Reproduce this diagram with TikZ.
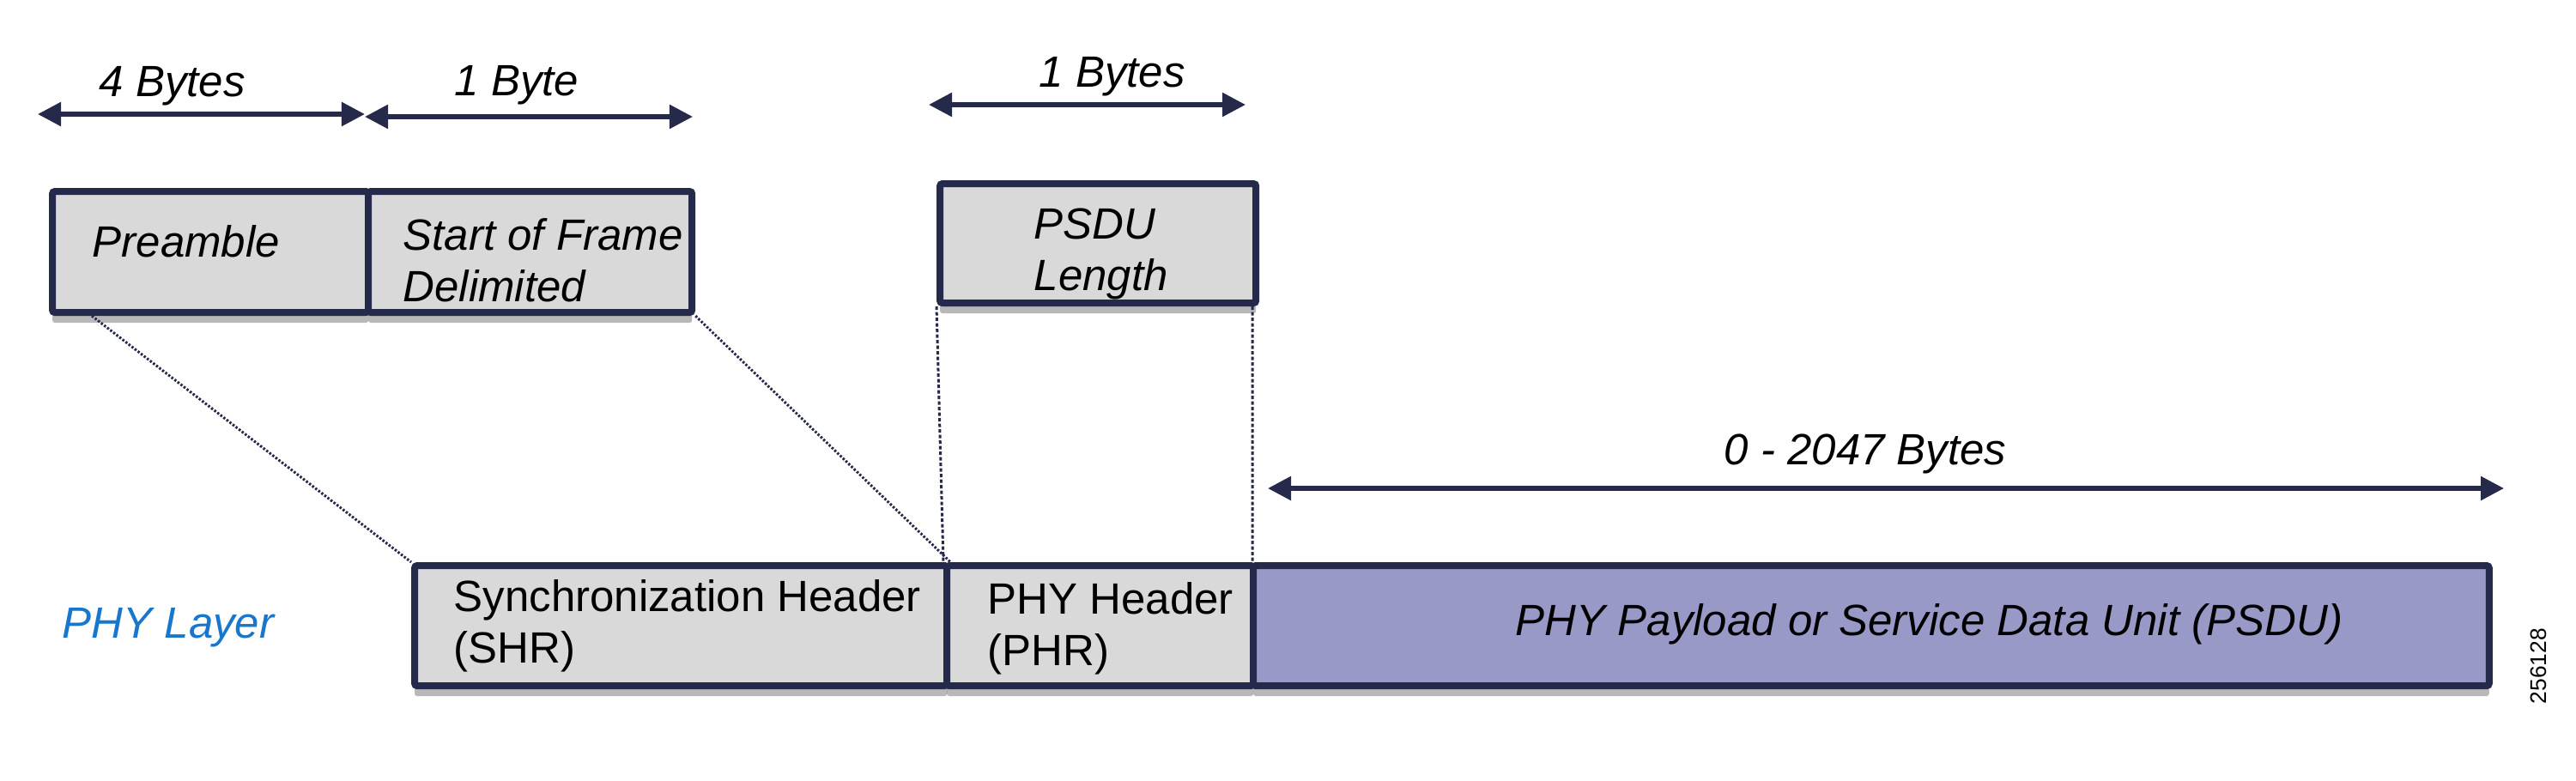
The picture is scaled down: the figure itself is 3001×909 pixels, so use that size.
\documentclass[tikz,border=0pt]{standalone}
\usepackage{fontspec}
\setmainfont{Liberation Sans}
\usetikzlibrary{arrows.meta,shadows}
\definecolor{navy}{RGB}{38,42,74}
\definecolor{boxgray}{RGB}{217,217,217}
\definecolor{payload}{RGB}{153,153,200}
\definecolor{phyblue}{RGB}{24,118,204}
\begin{document}
\begin{tikzpicture}[x=0.01cm, y=-0.01cm,
    every node/.style={inner sep=0pt, font=\fontsize{14.5}{17}\selectfont},
    field/.style={draw=navy, line width=0.08cm, fill=boxgray, rounded corners=0.03cm,
        minimum height=1.41cm, anchor=north west,
        drop shadow={shadow xshift=0cm, shadow yshift=-0.12cm, opacity=0.28, fill=black}},
    txt/.style={anchor=base west, align=left},
    itxt/.style={txt, font=\fontsize{14.5}{17}\selectfont\itshape},
    span/.style={draw=navy, line width=0.055cm,
        {Triangle[length=0.27cm,width=0.27cm]}-{Triangle[length=0.27cm,width=0.27cm]}},
    guide/.style={draw=navy, line width=0.03cm, dash pattern=on 0.025cm off 0.02cm},
    vguide/.style={draw=navy, line width=0.03cm, dash pattern=on 0.04cm off 0.025cm}]
  \useasboundingbox (0,0) rectangle (3001,909);

  % 上层字段
  \node[field, minimum width=3.68cm] (pre) at (57,219) {};
  \node[field, minimum width=3.77cm] (sfd) at (425,219) {};
  \node[field, minimum width=3.68cm, minimum height=1.39cm] (len) at (1091,210) {};
  \node[itxt] (preT) at (107,299) {Preamble};
  \node[itxt] (sfdT) at (469,351) {Start of Frame\\Delimited};
  \node[itxt] (lenT) at (1204,338) {PSDU\\Length};

  % PHY 帧
  \node[field, minimum width=6.20cm, minimum height=1.40cm] (shr) at (479,655) {};
  \node[field, minimum width=3.57cm, minimum height=1.40cm] (phr) at (1099,655) {};
  \node[field, fill=payload, minimum width=14.39cm, minimum height=1.40cm] (psdu) at (1456,655) {};
  \node[txt] (shrT) at (528,772) {Synchronization Header\\(SHR)};
  \node[txt] (phrT) at (1150,775) {PHY Header\\(PHR)};
  \node[itxt] (psduT) at (1765,740) {PHY Payload or Service Data Unit (PSDU)};
  \node[itxt, text=phyblue] (layer) at (72,743) {PHY Layer};

  % 长度箭头
  \coordinate (a1l) at (44,133);
  \coordinate (a1r) at (425,133);
  \coordinate (a2l) at (425,136);
  \coordinate (a2r) at (807,136);
  \coordinate (a3l) at (1082,122);
  \coordinate (a3r) at (1451,122);
  \coordinate (a4l) at (1477,569);
  \coordinate (a4r) at (2917,569);
  \draw[span] (a1l) -- (a1r);
  \draw[span] (a2l) -- (a2r);
  \draw[span] (a3l) -- (a3r);
  \draw[span] (a4l) -- (a4r);
  \node[itxt] (b1) at (115,112) {4 Bytes};
  \node[itxt] (b2) at (529,111) {1 Byte};
  \node[itxt] (b3) at (1210,101) {1 Bytes};
  \node[itxt] (b4) at (2008,541) {0 - 2047 Bytes};

  % 对应虚线
  \draw[guide] ([xshift=0.5cm]pre.south west) -- (shr.north west);
  \draw[guide] (sfd.south east) -- (shr.north east);
  \draw[vguide] (len.south west) -- (phr.north west);
  \draw[vguide] ([xshift=-0.08cm]len.south east) -- ([xshift=-0.05cm]phr.north east);

  \node[rotate=90, font=\fontsize{7.5}{9}\selectfont] (fig) at (2957,776) {256128};
\end{tikzpicture}
\end{document}
